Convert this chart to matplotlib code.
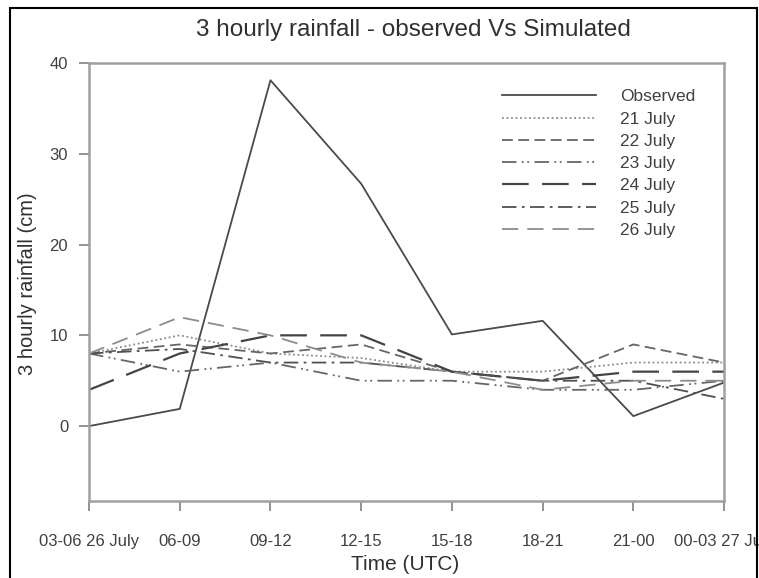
import numpy as np
import matplotlib
matplotlib.use("Agg")
import matplotlib.pyplot as plt
from matplotlib.patches import Rectangle

plt.rcParams['font.family'] = ['Liberation Sans', 'DejaVu Sans']

# time slots (UTC)
slots = ['03-06 26 July', '06-09', '09-12', '12-15', '15-18', '18-21', '21-00', '00-03 27 July']

# 3 hourly rainfall (cm)
observed = [0, 1.9, 38.1, 26.7, 10.1, 11.6, 1.1, 4.8]
jul21 = [8, 10, 8, 7.5, 6, 6, 7, 7]
jul22 = [8, 9, 8, 9, 6, 5, 9, 7]
jul23 = [8, 6, 7, 5, 5, 4, 4, 5]
jul24 = [4, 8, 10, 10, 6, 5, 6, 6]
jul25 = [8, 8.5, 7, 7, 6, 5, 5, 3]
jul26 = [8, 12, 10, 7, 6, 4, 5, 5]

x = np.arange(len(slots))

fig = plt.figure(figsize=(7.59, 5.78), dpi=100)
ax = fig.add_axes([0.1173, 0.1332, 0.8367, 0.7578])

ax.plot(x, observed, color='#4a4a4a', lw=1.3, ls='-', label='Observed')
ax.plot(x, jul21, color='#8a8a8a', lw=1.3, ls=(0, (1, 1.5)), label='21 July')
ax.plot(x, jul22, color='#666666', lw=1.3, ls=(0, (6, 3)), label='22 July')
ax.plot(x, jul23, color='#666666', lw=1.3, ls=(0, (8, 3, 1, 2, 1, 3)), label='23 July')
ax.plot(x, jul24, color='#444444', lw=1.6, ls=(0, (12, 6)), label='24 July')
ax.plot(x, jul25, color='#505050', lw=1.3, ls=(0, (8, 3, 1.5, 3)), label='25 July')
ax.plot(x, jul26, color='#8c8c8c', lw=1.3, ls=(0, (9, 5)), label='26 July')

ax.set_xlim(0, 7)
ax.set_ylim(-8.25, 40)
ax.set_xticks(x)
ax.set_xticklabels(slots)
ax.set_yticks([0, 10, 20, 30, 40])

for s in ax.spines.values():
    s.set_color('#a0a0a0')
    s.set_linewidth(1.8)
ax.tick_params(direction='out', length=7, width=1.2, color='#808080',
               labelcolor='#404040', labelsize=12)
ax.tick_params(axis='y', pad=8)
ax.tick_params(axis='x', pad=17)

leg = ax.legend(loc='upper left', bbox_to_anchor=(0.639, 0.956), frameon=False,
                fontsize=12.5, handlelength=5.45, handletextpad=1.36,
                labelspacing=0.41, borderaxespad=0)
for t in leg.get_texts():
    t.set_color('#404040')

fig.text(0.545, 0.948, '3 hourly rainfall - observed Vs Simulated',
         ha='center', va='center', fontsize=17.5, color='#303030')
fig.text(0.0356, 0.51, '3 hourly rainfall (cm)', rotation=90,
         ha='center', va='center', fontsize=14.5, color='#303030')
fig.text(0.534, 0.0225, 'Time (UTC)', ha='center', va='center',
         fontsize=15, color='#303030')

# outer frame round the whole picture
fig.patches.append(Rectangle((10 / 759, -0.05), 747 / 759, 1.05 - 8 / 578,
                             transform=fig.transFigure, fill=False,
                             edgecolor='black', lw=1.5, clip_on=False))

fig.savefig('out.png', dpi=100)
